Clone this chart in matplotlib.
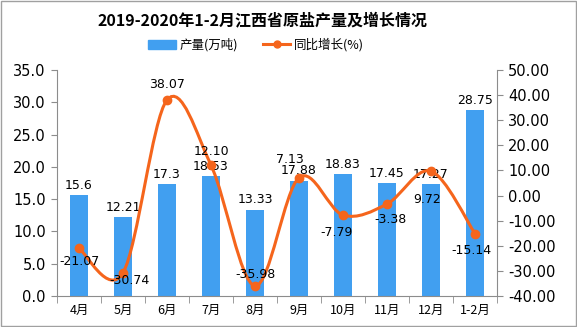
import numpy as np
import matplotlib
matplotlib.use("Agg")
import matplotlib.pyplot as plt
from matplotlib.path import Path
from matplotlib.patches import PathPatch, Patch, Rectangle
from matplotlib.lines import Line2D

plt.rcParams['font.family'] = ['Noto Sans CJK SC', 'DejaVu Sans']

# 数据
months = ['4月', '5月', '6月', '7月', '8月', '9月', '10月', '11月', '12月', '1-2月']
output = [15.6, 12.21, 17.3, 18.53, 13.33, 17.88, 18.83, 17.45, 17.27, 28.75]
growth = [-21.07, -30.74, 38.07, 12.10, -35.98, 7.13, -7.79, -3.38, 9.72, -15.14]

# 增长率标签的偏移 (像素)
growth_offsets = [(0, -13), (6, -8), (0, 15), (0, 14), (0, 11),
                  (-9, 18), (-6, -17), (3, -15), (-4, -28), (-4, -17)]

bar_color = '#419ff0'
line_color = '#f5651c'
axis_color = '#8c8c8c'

fig = plt.figure(figsize=(5.77, 3.27), dpi=100)
ax = fig.add_axes([57/577, 1 - 296/327, 440/577, 226/327])
ax2 = ax.twinx()

x = np.arange(len(months))
ax.bar(x, output, width=0.43, color=bar_color, zorder=2)
ax.set_xlim(-0.5, len(months) - 0.5)
ax.set_ylim(0, 35)
ax.set_yticks(np.arange(0, 35.1, 5))
ax.set_yticklabels([f'{v:.1f}' for v in np.arange(0, 35.1, 5)], family='DejaVu Sans')
ax2.set_ylim(-40, 50)
ax2.set_yticks(np.arange(-40, 50.1, 10))
ax2.set_yticklabels([f'{v:.2f}' for v in np.arange(-40, 50.1, 10)], family='DejaVu Sans')

ax.set_xticks(x)
ax.set_xticklabels(months, fontsize=9)
ax.set_xticks(np.arange(-0.5, len(months)), minor=True)
ax.tick_params(axis='x', which='major', length=0, pad=6)
ax.tick_params(axis='x', which='minor', length=5, color=axis_color)
ax.tick_params(axis='y', length=4, color=axis_color, labelsize=10.5, pad=4)
ax2.tick_params(axis='y', length=4, color=axis_color, labelsize=10.5, pad=4)

for a in (ax, ax2):
    a.spines['top'].set_visible(False)
    for s in ('left', 'right', 'bottom'):
        a.spines[s].set_color(axis_color)
ax.spines['right'].set_visible(False)
ax2.spines['left'].set_visible(False)
ax2.spines['bottom'].set_visible(False)

# 平滑曲线 (Catmull-Rom -> 贝塞尔)
pts = np.column_stack([x, growth]).astype(float)
verts = [tuple(pts[0])]
codes = [Path.MOVETO]
n = len(pts)
for i in range(n - 1):
    p0 = pts[i - 1] if i > 0 else pts[i]
    p1 = pts[i]
    p2 = pts[i + 1]
    p3 = pts[i + 2] if i + 2 < n else pts[i + 1]
    c1 = p1 + (p2 - p0) / 6
    c2 = p2 - (p3 - p1) / 6
    verts += [tuple(c1), tuple(c2), tuple(p2)]
    codes += [Path.CURVE4] * 3
ax2.add_patch(PathPatch(Path(verts, codes), facecolor='none', edgecolor=line_color,
                        lw=2.2, zorder=3))
ax2.plot(x, growth, 'o', color=line_color, markersize=6, zorder=4)

for xi, v in zip(x, output):
    ax.annotate(f'{v:g}', (xi, v), xytext=(0, 10),
                textcoords='offset pixels', ha='center', va='center',
                fontsize=9, family='DejaVu Sans')
for xi, v, (dx, dy) in zip(x, growth, growth_offsets):
    ax2.annotate(f'{v:.2f}', (xi, v), xytext=(dx, dy), textcoords='offset pixels',
                 ha='center', va='center', fontsize=9, family='DejaVu Sans', zorder=5)

fig.text(0.455, 1 - 20/327, '2019-2020年1-2月江西省原盐产量及增长情况',
         ha='center', va='center', fontsize=11.5, fontweight='bold')

handles = [Patch(color=bar_color),
           Line2D([], [], color=line_color, lw=2.2, marker='o', markersize=5)]
fig.legend(handles, ['产量(万吨)', '同比增长(%)'], loc='center',
           bbox_to_anchor=(256/577, 1 - 45/327), ncol=2, frameon=False,
           fontsize=9, handlelength=2.2, handleheight=0.7, columnspacing=2.0,
           handletextpad=0.3)

fig.patches.append(Rectangle((0.001, 0.002), 0.997, 0.995, transform=fig.transFigure,
                             fill=False, edgecolor='#a0a0a0', lw=1))

fig.savefig('out.png', dpi=100)
